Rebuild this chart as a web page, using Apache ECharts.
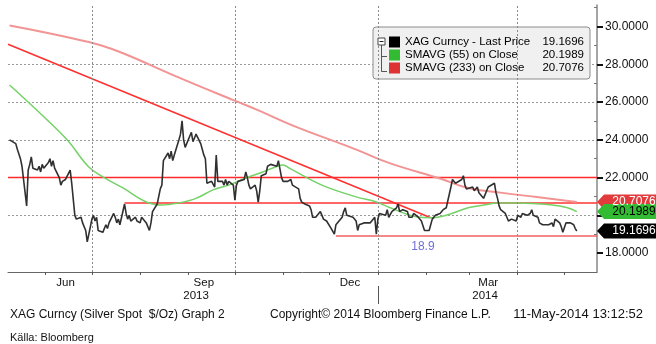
<!DOCTYPE html>
<html>
<head>
<meta charset="utf-8">
<script src="https://cdn.jsdelivr.net/npm/echarts@6/dist/echarts.min.js"></script>
<style>
html,body{margin:0;padding:0;background:#fff;}
#chart{width:656px;height:344px;}
</style>
</head>
<body>
<div id="chart"></div>
<script>
// ---------------- DATA ----------------
const priceStart = '2013-05-09';
const priceEnd = '2014-05-09';
// daily closes, one row per week (Mon..Fri), first row = Thu/Fri 9-10 May 2013
const closeValues = [
  24.0, 23.9,
  23.8, 23.5, 23.55, 23.0, 22.6,
  20.5, 22.4, 22.7, 23.1, 22.5,
  22.4, 22.6, 22.3, 22.7, 22.5,
  22.8, 23.0, 22.6, 22.9, 22.5,
  22.0, 21.6, 21.8, 21.7, 21.9,
  22.4, 21.7, 21.6, 20.0, 19.8,
  19.9, 19.6, 19.7, 19.2, 18.6,
  19.8, 20.0, 19.7, 19.9, 19.2,
  19.1, 19.3, 19.5, 19.3, 19.6,
  20.1, 19.9, 19.6, 19.8, 19.5,
  20.6, 20.1, 19.8, 20.0, 19.7,
  19.9, 19.7, 19.8, 19.6, 19.9,
  19.6, 19.4, 19.2, 19.6, 20.2,
  20.6, 20.7, 21.4, 21.6, 22.9,
  23.3, 23.0, 23.4, 22.9, 23.2,
  24.0, 24.3, 25.0, 24.0, 23.6,
  24.2, 24.4, 23.9, 24.1, 24.3,
  23.8, 23.5, 23.2, 23.0, 21.7,
  21.8, 21.7, 21.5, 23.2, 21.8,
  21.8, 21.6, 21.9, 21.6, 21.8,
  21.6, 20.8, 21.6, 21.8, 21.7,
  21.9, 22.3, 22.0, 21.6, 21.4,
  21.6, 21.3, 20.7, 21.3, 22.1,
  22.2, 22.6, 22.5, 22.7, 22.6,
  22.6, 22.9, 22.8, 22.0, 21.8,
  21.8, 21.7, 21.9, 21.6, 21.7,
  21.4, 20.9, 20.7, 20.8, 20.6,
  20.5, 20.3, 19.9, 19.8, 19.9,
  20.2, 20.3, 19.8, 19.8, 19.7,
  19.3, 19.2, 19.0, 19.5, 19.6,
  19.9, 20.2, 20.4, 20.0, 20.1,
  19.9, 20.0, 19.7, 19.2, 19.5,
  19.6, 19.5, 19.6, 19.7, 19.6,
  19.9, 19.0, 19.8, 20.1, 20.2,
  20.0, 20.3, 19.9, 19.8, 20.2,
  20.4, 20.6, 20.2, 20.1, 20.3,
  20.2, 19.9, 19.8, 19.9, 20.1,
  19.9, 19.8, 19.7, 19.6, 19.2,
  19.2, 19.5, 19.8, 19.9, 20.0,
  20.1, 20.2, 20.3, 20.2, 20.4,
  21.5, 21.9, 21.8, 21.7, 21.8,
  21.9, 22.1, 21.6, 21.4, 21.4,
  21.5, 21.3, 21.4, 21.5, 21.2,
  20.9, 21.1, 21.3, 21.5, 21.5,
  21.7, 21.2, 20.9, 20.5, 20.3,
  20.1, 19.9, 19.7, 19.8, 19.8,
  19.7, 20.0, 19.9, 19.9, 20.1,
  20.0, 20.0, 20.1, 20.3, 20.0,
  19.9, 19.6, 19.6, 19.5, 19.6,
  19.5, 19.4, 19.6, 19.4, 19.8,
  19.6, 19.4, 19.1, 19.0, 19.6,
  19.6, 19.7, 19.5, 19.3, 19.1696
];

const sma55Dates = ['2013-05-09','2013-05-30','2013-06-15','2013-06-29','2013-07-08','2013-07-21','2013-08-05','2013-08-15','2013-08-26','2013-09-06','2013-09-17','2013-09-27','2013-10-08','2013-10-19','2013-10-27','2013-11-01','2013-11-05','2013-11-26','2013-12-18','2013-12-31','2014-01-09','2014-01-26','2014-02-04','2014-02-15','2014-02-28','2014-03-11','2014-03-19','2014-04-01','2014-04-23','2014-05-03','2014-05-09'];
const sma55Values = [26.9, 25.3, 24.0, 22.56, 22.04, 21.45, 20.71, 20.55, 20.66, 20.9, 21.35, 21.6, 21.98, 22.3, 22.56, 22.67, 22.5, 21.6, 20.98, 20.71, 20.4, 19.92, 19.87, 20.03, 20.4, 20.56, 20.66, 20.66, 20.55, 20.4, 20.1989];

const sma233Dates = ['2013-05-09','2013-06-29','2013-07-19','2013-08-23','2013-09-30','2013-10-15','2013-11-09','2013-12-16','2014-01-09','2014-02-10','2014-02-28','2014-03-22','2014-04-12','2014-05-09'];
const sma233Values = [30.06, 29.18, 28.65, 27.4, 26.1, 25.6, 24.7, 23.55, 22.75, 21.95, 21.45, 21.19, 20.98, 20.7076];

const trendDates = ['2013-05-08','2014-02-04'];
const trendValues = [29.06, 19.87];

const level22Dates = ['2013-05-08','2014-05-22'];
const level22Value = 22.0;
const level2065Dates = ['2013-07-22','2014-05-22'];
const level2065Value = 20.65;
const level189Dates = ['2013-12-05','2014-05-22'];
const level189Value = 18.9;
const level189Label = '18.9';
const level189LabelDate = '2014-01-30';

const seriesNames = ['XAG Curncy - Last Price', 'SMAVG (55) on Close', 'SMAVG (233) on Close'];
const lastValues = ['19.1696', '20.1989', '20.7076'];

const xMin = '2013-05-08';
const xMax = '2014-05-22';
const monthTickDates = ['2013-06-01','2013-07-01','2013-08-01','2013-09-01','2013-10-01','2013-11-01','2013-12-01','2014-01-01','2014-02-01','2014-03-01','2014-04-01','2014-05-01'];
const quarterDates = ['2013-07-01','2013-10-01','2014-01-01','2014-04-01'];
const monthLabelDates = ['2013-06-14','2013-09-11','2013-12-14','2014-03-13'];
const monthLabels = ['Jun','Sep','Dec','Mar'];
const yearLabelDates = ['2013-09-06','2014-03-11'];
const yearLabels = ['2013','2014'];
const yearSeparatorDate = '2014-01-01';
const yTickValues = [18, 20, 22, 24, 26, 28, 30];
const yMinorTickValues = [19, 21, 23, 25, 27, 29, 31];

const footerLeft = 'XAG Curncy (Silver Spot  $/Oz) Graph 2';
const footerMid = 'Copyright\u00A9 2014 Bloomberg Finance L.P.';
const footerRight = '11-May-2014 13:12:52';
const sourceText = 'Källa: Bloomberg';

// ---------------- BUILD ----------------
const P = s => {
  const [y, m, d] = s.split('-').map(Number);
  return new Date(y, m - 1, d).getTime();
};
function weekdays(start, end) {
  const out = [];
  const d = new Date(P(start));
  const e = P(end);
  while (d.getTime() <= e) {
    const w = d.getDay();
    if (w !== 0 && w !== 6) out.push(d.getTime());
    d.setDate(d.getDate() + 1);
  }
  return out;
}
const priceDates = weekdays(priceStart, priceEnd);
const n = Math.min(priceDates.length, closeValues.length);
const priceData = [];
for (let i = 0; i < n; i++) priceData.push([priceDates[i], closeValues[i]]);
const zip = (ds, vs) => ds.map((d, i) => [P(d), vs[i]]);
const FONT = 'Liberation Sans';

const monthLabelTs = monthLabelDates.map(P);
const yearLabelTs = yearLabelDates.map(P);
const near = (arr, v) => arr.findIndex(t => Math.abs(t - v) < 3600e3);

const tagPath = 'path://M0,7L7,0L70,0L70,14L7,14Z';
function tag(value, text, color, textColor) {
  return {
    symbol: tagPath, symbolSize: [70, 15], symbolOffset: [35, 0], silent: true,
    data: [{ coord: [P(xMax), value], value: text }],
    itemStyle: { color: color },
    label: { show: true, position: 'inside', offset: [2, 0], formatter: text, color: textColor, fontSize: 12, fontFamily: FONT, align: 'center' }
  };
}

const chart = echarts.init(document.getElementById('chart'), null, { renderer: 'canvas' });
const option = {
  animation: false,
  backgroundColor: '#ffffff',
  textStyle: { fontFamily: FONT },
  grid: { left: 8, right: 59, top: 5, bottom: 72, containLabel: false },
  title: [
    { text: footerLeft, left: 5, top: 304, textStyle: { fontSize: 12, fontWeight: 'normal', color: '#111', fontFamily: FONT } },
    { text: footerMid, left: 265, top: 304, textStyle: { fontSize: 12, fontWeight: 'normal', color: '#111', fontFamily: FONT } },
    { text: footerRight, right: 8, top: 303, textStyle: { fontSize: 13, fontWeight: 'normal', color: '#111', fontFamily: FONT } },
    { text: sourceText, left: 5, top: 327, textStyle: { fontSize: 11, fontWeight: 'normal', color: '#111', fontFamily: FONT } }
  ],
  legend: {
    orient: 'vertical', left: 373, top: 27,
    padding: [9, 6, 5, 16], itemGap: 1, itemWidth: 11, itemHeight: 11,
    icon: 'rect', selectedMode: false,
    backgroundColor: '#f0f0f0', borderColor: '#8c8c8c', borderWidth: 1, borderRadius: 3,
    data: [
      { name: seriesNames[0], itemStyle: { color: '#000000' } },
      { name: seriesNames[1], itemStyle: { color: '#33bb33' } },
      { name: seriesNames[2], itemStyle: { color: '#dd3333' } }
    ],
    formatter: name => '{n|' + name + '}{v|' + lastValues[seriesNames.indexOf(name)] + '}',
    textStyle: {
      rich: {
        n: { width: 135, fontSize: 11.5, color: '#000', fontFamily: FONT, lineHeight: 14 },
        v: { width: 44, align: 'right', fontSize: 11.5, color: '#000', fontFamily: FONT, lineHeight: 14 }
      }
    }
  },
  graphic: [
    { type: 'rect', shape: { x: 378, y: 38, width: 7, height: 7 }, style: { fill: '#fff', stroke: '#444', lineWidth: 1 }, z: 100 },
    { type: 'line', shape: { x1: 379.5, y1: 41.5, x2: 383.5, y2: 41.5 }, style: { stroke: '#222', lineWidth: 1 }, z: 100 },
    { type: 'line', shape: { x1: 381.5, y1: 45, x2: 381.5, y2: 71.5 }, style: { stroke: '#555', lineWidth: 1 }, z: 100 },
    { type: 'line', shape: { x1: 381.5, y1: 56.5, x2: 387, y2: 56.5 }, style: { stroke: '#555', lineWidth: 1 }, z: 100 },
    { type: 'line', shape: { x1: 381.5, y1: 71.5, x2: 387, y2: 71.5 }, style: { stroke: '#555', lineWidth: 1 }, z: 100 }
  ],
  xAxis: [
    {
      type: 'value', min: P(xMin), max: P(xMax), position: 'bottom',
      axisLine: { show: true, lineStyle: { color: '#666', width: 1 } },
      axisTick: { show: true, customValues: monthTickDates.map(P), length: 3, lineStyle: { color: '#555' } },
      axisLabel: {
        show: true, customValues: monthLabelTs, margin: 5, fontSize: 11.5, color: '#111', fontFamily: FONT,
        formatter: v => { const i = near(monthLabelTs, +v); return i >= 0 ? monthLabels[i] : ''; }
      },
      splitLine: { show: false }
    },
    {
      type: 'value', min: P(xMin), max: P(xMax), position: 'bottom', offset: 14,
      axisLine: { show: false },
      axisTick: { show: true, customValues: [P(yearSeparatorDate)], length: 18, lineStyle: { color: '#555' } },
      axisLabel: {
        show: true, customValues: yearLabelTs, margin: 4, fontSize: 11.5, color: '#111', fontFamily: FONT,
        formatter: v => { const i = near(yearLabelTs, +v); return i >= 0 ? yearLabels[i] : ''; }
      },
      splitLine: { show: false }
    }
  ],
  yAxis: [
    {
      type: 'value', position: 'right', min: 17.0, max: 31.14, splitNumber: 7,
      axisLine: { show: true, lineStyle: { color: '#888', width: 1.5 } },
      axisTick: { show: true, customValues: yTickValues, length: 6, lineStyle: { color: '#111', width: 2 } },
      axisLabel: { show: true, customValues: yTickValues, margin: 8, fontSize: 12, color: '#111', fontFamily: FONT, formatter: v => Number(v).toFixed(4) },
      splitLine: { show: true, showMinLine: false, showMaxLine: false, lineStyle: { color: '#9a9a9a', type: [2, 2], width: 1 } }
    },
    {
      type: 'value', position: 'right', min: 17.0, max: 31.14, splitNumber: 7,
      axisLine: { show: false },
      axisTick: { show: true, inside: true, customValues: yMinorTickValues, length: 3, lineStyle: { color: '#777' } },
      axisLabel: { show: false },
      splitLine: { show: false }
    }
  ],
  series: [
    {
      name: 'grid-q', type: 'line', data: [], silent: true,
      markLine: {
        silent: true, symbol: ['none', 'none'], label: { show: false },
        lineStyle: { color: '#8a8a8a', type: [2, 2], width: 1 },
        data: quarterDates.map(d => ({ xAxis: P(d) }))
      }
    },
    { name: 'level22', type: 'line', data: level22Dates.map(d => [P(d), level22Value]), symbol: 'none', lineStyle: { color: '#ff2a2a', width: 1.5 }, silent: true, z: 2 },
    { name: 'level2065', type: 'line', data: level2065Dates.map(d => [P(d), level2065Value]), symbol: 'none', lineStyle: { color: '#ff3333', width: 1.5 }, silent: true, z: 2 },
    {
      name: 'level189', type: 'line', data: level189Dates.map(d => [P(d), level189Value]), symbol: 'none', lineStyle: { color: '#f06060', width: 1.5 }, silent: true, z: 2,
      markPoint: {
        symbol: 'circle', symbolSize: 0, silent: true,
        data: [{ coord: [P(level189LabelDate), level189Value] }],
        label: { show: true, position: 'bottom', distance: 5, formatter: level189Label, color: '#6f6fd8', fontSize: 12, fontFamily: FONT }
      }
    },
    { name: 'trend', type: 'line', data: zip(trendDates, trendValues), symbol: 'none', lineStyle: { color: '#ff3030', width: 1.5 }, silent: true, z: 2 },
    {
      name: seriesNames[2], type: 'line', data: zip(sma233Dates, sma233Values), symbol: 'none', smooth: 0.4,
      color: '#dd3333', lineStyle: { color: '#f29494', width: 2 }, z: 3,
      markPoint: tag(20.7076, lastValues[2], '#e23b3b', '#ffffff')
    },
    {
      name: seriesNames[1], type: 'line', data: zip(sma55Dates, sma55Values), symbol: 'none', smooth: 0.4,
      color: '#33bb33', lineStyle: { color: '#74d266', width: 1.5 }, z: 4,
      markPoint: tag(20.1989, lastValues[1], '#33bb33', '#000000')
    },
    {
      name: seriesNames[0], type: 'line', data: priceData, symbol: 'none',
      color: '#000000', lineStyle: { color: '#303030', width: 1.6 }, z: 5,
      markPoint: tag(19.1696, lastValues[0], '#000000', '#ffffff')
    }
  ]
};
chart.setOption(option);
</script>
</body>
</html>
